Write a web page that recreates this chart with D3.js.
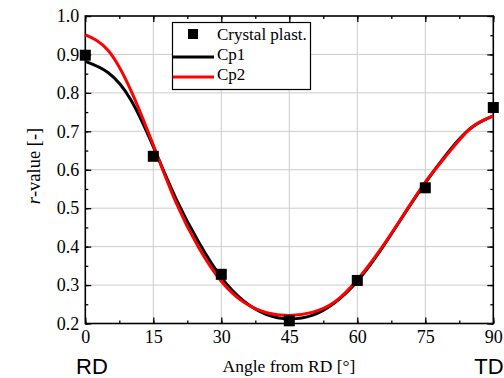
<!DOCTYPE html>
<html>
<head>
<meta charset="utf-8">
<script src="https://cdn.jsdelivr.net/npm/d3@7"></script>
<style>
body { margin: 0; background: #fff; }
</style>
</head>
<body>
<div id="chart"></div>
<script>
var width = 504,
    height = 378;
var serif = "'Liberation Serif', 'Times New Roman', serif";

// measured r-values
var angles = [0, 15, 30, 45, 60, 75, 90];
var crystal = [0.898, 0.635, 0.328, 0.207, 0.312, 0.553, 0.762];

var fitAngles = [0, 5, 10, 15, 20, 25, 30, 35, 40, 45, 50, 55, 60, 65, 70, 75, 80, 85, 90];
var cp1 = [0.882, 0.853, 0.783, 0.66, 0.525, 0.412, 0.32, 0.258, 0.223, 0.212, 0.221, 0.254, 0.31, 0.388, 0.478, 0.566, 0.645, 0.708, 0.74];
var cp2 = [0.951, 0.911, 0.808, 0.664, 0.515, 0.398, 0.31, 0.255, 0.228, 0.221, 0.229, 0.256, 0.314, 0.391, 0.479, 0.568, 0.642, 0.708, 0.74];

var xTicks = [0, 15, 30, 45, 60, 75, 90];
var yTicks = [0.2, 0.3, 0.4, 0.5, 0.6, 0.7, 0.8, 0.9, 1.0];

var margin = {left: 85.3, right: 10.7, top: 16, bottom: 54.5};

var svg = d3.select("#chart").append("svg")
    .attr("width", width)
    .attr("height", height);

var x = d3.scaleLinear().domain([0, 90]).range([margin.left, width - margin.right]);
var y = d3.scaleLinear().domain([0.2, 1.0]).range([height - margin.bottom, margin.top]);

// grid
svg.append("g").selectAll("line").data(xTicks.slice(1, -1)).enter().append("line")
    .attr("x1", d => x(d)).attr("x2", d => x(d))
    .attr("y1", y(0.2)).attr("y2", y(1.0))
    .attr("stroke", "#cccccc").attr("stroke-width", 1);
svg.append("g").selectAll("line").data(yTicks.slice(1, -1)).enter().append("line")
    .attr("y1", d => y(d)).attr("y2", d => y(d))
    .attr("x1", x(0)).attr("x2", x(90))
    .attr("stroke", "#cccccc").attr("stroke-width", 1);

// axes, ticks inward and mirrored
var xMinor = d3.range(0, 91, 7.5);
var yMinor = d3.range(0.2, 1.001, 0.05);

function addAxis(axis, tr) {
    var g = svg.append("g").attr("transform", tr).call(axis);
    g.select(".domain").remove();
    g.selectAll("line").attr("stroke", "#000").attr("stroke-width", 1.3);
    g.selectAll("text")
        .style("font-family", serif)
        .style("font-size", "18px")
        .attr("fill", "#000");
    return g;
}

var xb = addAxis(d3.axisBottom(x).tickValues(xTicks).tickSize(-6).tickFormat(d3.format("d")),
    "translate(0," + y(0.2) + ")");
xb.selectAll("text").attr("y", 0).attr("dy", 19.5);
addAxis(d3.axisBottom(x).tickValues(xMinor).tickSize(-3).tickFormat(""), "translate(0," + y(0.2) + ")");
addAxis(d3.axisTop(x).tickValues(xTicks).tickSize(-6).tickFormat(""), "translate(0," + y(1.0) + ")");
addAxis(d3.axisTop(x).tickValues(xMinor).tickSize(-3).tickFormat(""), "translate(0," + y(1.0) + ")");

addAxis(d3.axisLeft(y).tickValues(yTicks).tickSize(-6).tickPadding(6).tickFormat(d3.format(".1f")),
    "translate(" + x(0) + ",0)");
addAxis(d3.axisLeft(y).tickValues(yMinor).tickSize(-3).tickFormat(""), "translate(" + x(0) + ",0)");
addAxis(d3.axisRight(y).tickValues(yTicks).tickSize(-6).tickFormat(""), "translate(" + x(90) + ",0)");
addAxis(d3.axisRight(y).tickValues(yMinor).tickSize(-3).tickFormat(""), "translate(" + x(90) + ",0)");

// frame
svg.append("rect")
    .attr("x", x(0)).attr("y", y(1.0))
    .attr("width", x(90) - x(0)).attr("height", y(0.2) - y(1.0))
    .attr("fill", "none").attr("stroke", "#000").attr("stroke-width", 1.6);

// curves
var line = d3.line()
    .x(d => x(d[0]))
    .y(d => y(d[1]))
    .curve(d3.curveNatural);

svg.append("path")
    .datum(d3.zip(fitAngles, cp1))
    .attr("d", line)
    .attr("fill", "none").attr("stroke", "#000").attr("stroke-width", 3);
svg.append("path")
    .datum(d3.zip(fitAngles, cp2))
    .attr("d", line)
    .attr("fill", "none").attr("stroke", "#ff0000").attr("stroke-width", 3);

// measured points
var sq = 11;
svg.append("g").selectAll("rect").data(d3.zip(angles, crystal)).enter().append("rect")
    .attr("x", d => x(d[0]) - sq / 2)
    .attr("y", d => y(d[1]) - sq / 2)
    .attr("width", sq).attr("height", sq)
    .attr("fill", "#000");

// legend
var lg = svg.append("g").attr("font-family", serif);
lg.append("rect")
    .attr("x", 172.5).attr("y", 22.5).attr("width", 138).attr("height", 67)
    .attr("fill", "#fff").attr("stroke", "#000").attr("stroke-width", 1.2);
lg.append("rect").attr("x", 188).attr("y", 29).attr("width", 10).attr("height", 10).attr("fill", "#000");
lg.append("line").attr("x1", 173).attr("x2", 214).attr("y1", 57).attr("y2", 57)
    .attr("stroke", "#000").attr("stroke-width", 3);
lg.append("line").attr("x1", 173).attr("x2", 214).attr("y1", 77).attr("y2", 77)
    .attr("stroke", "#ff0000").attr("stroke-width", 3);
var legendNames = ["Crystal plast.", "Cp1", "Cp2"];
lg.selectAll("text").data(legendNames).enter().append("text")
    .attr("x", 217).attr("y", (d, i) => 39.5 + i * 20)
    .attr("font-size", 17).text(d => d);

// axis titles
svg.append("text")
    .attr("x", 289).attr("y", 372)
    .attr("text-anchor", "middle").attr("font-size", 17.5)
    .attr("font-family", serif)
    .text("Angle from RD [°]");

var yt = svg.append("text")
    .attr("transform", "translate(40,166) rotate(-90)")
    .attr("text-anchor", "middle").attr("font-size", 18.5)
    .attr("font-family", serif);
yt.append("tspan").attr("font-style", "italic").text("r");
yt.append("tspan").text("-value [-]");

// direction labels
svg.append("text").attr("x", 92).attr("y", 374).attr("text-anchor", "middle")
    .attr("font-family", "'Liberation Sans', Arial, sans-serif").attr("font-size", 22).text("RD");
svg.append("text").attr("x", 489).attr("y", 374).attr("text-anchor", "middle")
    .attr("font-family", "'Liberation Sans', Arial, sans-serif").attr("font-size", 22).text("TD");
</script>
</body>
</html>
